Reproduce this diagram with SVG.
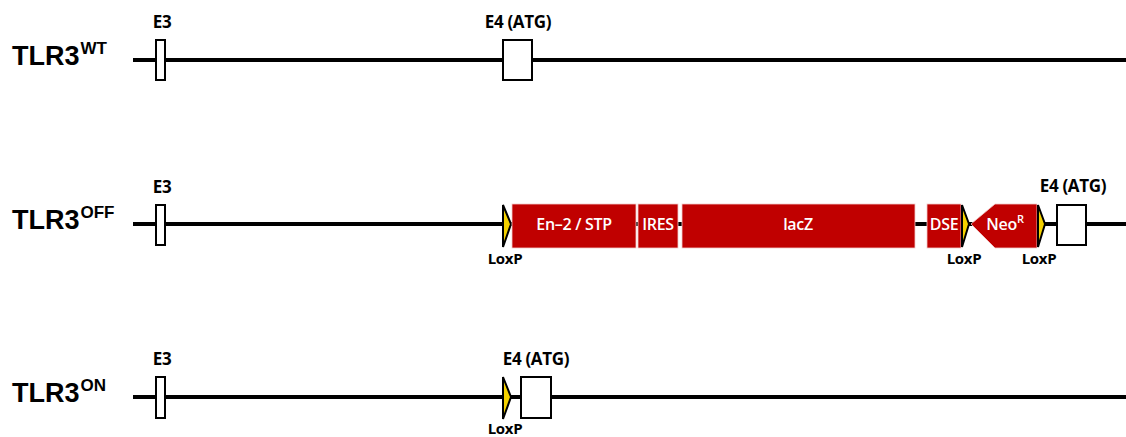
<svg xmlns="http://www.w3.org/2000/svg" width="1126" height="437" viewBox="0 0 1126 437">
<style>
.bg{fill:#ffffff}
.title{font-family:"Liberation Sans",Arial,sans-serif;font-weight:bold;font-size:27px;fill:#000}
.sup{font-family:"Liberation Sans",Arial,sans-serif;font-weight:bold;font-size:17px;fill:#000}
.lbl{font-family:"Open Sans","Liberation Sans",sans-serif;font-weight:700;font-size:17px;fill:#000;text-anchor:middle;letter-spacing:-0.3px}
.lox{font-family:"Open Sans","Liberation Sans",sans-serif;font-weight:700;font-size:15px;fill:#000;text-anchor:middle;letter-spacing:-0.3px}
.exon{fill:#ffffff;stroke:#000;stroke-width:2}
.cas{fill:#c00000;stroke:#f2caca;stroke-width:0.8}
.ctext{font-family:"Open Sans","Liberation Sans",sans-serif;font-weight:600;font-size:16px;fill:#ffffff;text-anchor:middle;letter-spacing:-0.3px}
.loxp{fill:#f5d200;stroke:#000;stroke-width:2;stroke-linejoin:miter}
.dna{stroke:#000;stroke-width:4;fill:none}
</style>
<rect class="bg" x="0" y="0" width="1126" height="437"/>

<g id="connectors">
<line class="dna" x1="133" y1="60" x2="1126" y2="60"/>
<line class="dna" x1="133" y1="224" x2="1126" y2="224"/>
<line class="dna" x1="133" y1="397" x2="1126" y2="397"/>
</g>

<!-- Row 1: WT -->
<g id="title-wt"><text class="title" x="12" y="65">TLR3<tspan class="sup" dy="-11" dx="1">WT</tspan></text></g>
<g id="wt-e3"><rect class="exon" x="156" y="40" width="9" height="40"/><text class="lbl" x="162" y="28">E3</text></g>
<g id="wt-e4"><rect class="exon" x="503" y="40" width="29" height="40"/><text class="lbl" x="518" y="28">E4 (ATG)</text></g>

<!-- Row 2: OFF -->
<g id="title-off"><text class="title" x="12" y="229">TLR3<tspan class="sup" dy="-11" dx="1">OFF</tspan></text></g>
<g id="off-e3"><rect class="exon" x="156" y="205" width="9" height="40"/><text class="lbl" x="162" y="193">E3</text></g>
<g id="off-loxp1"><polygon class="loxp" points="503,205 511,224 503,247"/><text class="lox" x="505" y="264">LoxP</text></g>
<g id="off-en2"><rect class="cas" x="512" y="204" width="124" height="44"/><text class="ctext" x="574" y="229.5">En–2 / STP</text></g>
<g id="off-ires"><rect class="cas" x="638" y="204" width="40" height="44"/><text class="ctext" x="658" y="229.5">IRES</text></g>
<g id="off-lacz"><rect class="cas" x="682" y="204" width="233" height="44"/><text class="ctext" x="798" y="229.5">lacZ</text></g>
<g id="off-dse"><rect class="cas" x="927" y="204" width="34" height="44"/><text class="ctext" x="944" y="229.5">DSE</text></g>
<g id="off-loxp2"><polygon class="loxp" points="962,205 969,224 962,247"/><text class="lox" x="964" y="264">LoxP</text></g>
<g id="off-neo"><polygon class="cas" points="971,224 995,204 1037,204 1037,248 995,248"/><text class="ctext" x="1005" y="229.5">Neo<tspan font-size="11px" dy="-7">R</tspan></text></g>
<g id="off-loxp3"><polygon class="loxp" points="1038,205 1045,224 1038,247"/><text class="lox" x="1039" y="264">LoxP</text></g>
<g id="off-e4"><rect class="exon" x="1057" y="205" width="29" height="40"/><text class="lbl" x="1073" y="192">E4 (ATG)</text></g>

<!-- Row 3: ON -->
<g id="title-on"><text class="title" x="12" y="402">TLR3<tspan class="sup" dy="-11" dx="1">ON</tspan></text></g>
<g id="on-e3"><rect class="exon" x="156" y="377" width="9" height="41"/><text class="lbl" x="162" y="365">E3</text></g>
<g id="on-loxp"><polygon class="loxp" points="503,377 511,397 503,419"/><text class="lox" x="505" y="434">LoxP</text></g>
<g id="on-e4"><rect class="exon" x="521" y="377" width="30" height="41"/><text class="lbl" x="536" y="365">E4 (ATG)</text></g>
</svg>
